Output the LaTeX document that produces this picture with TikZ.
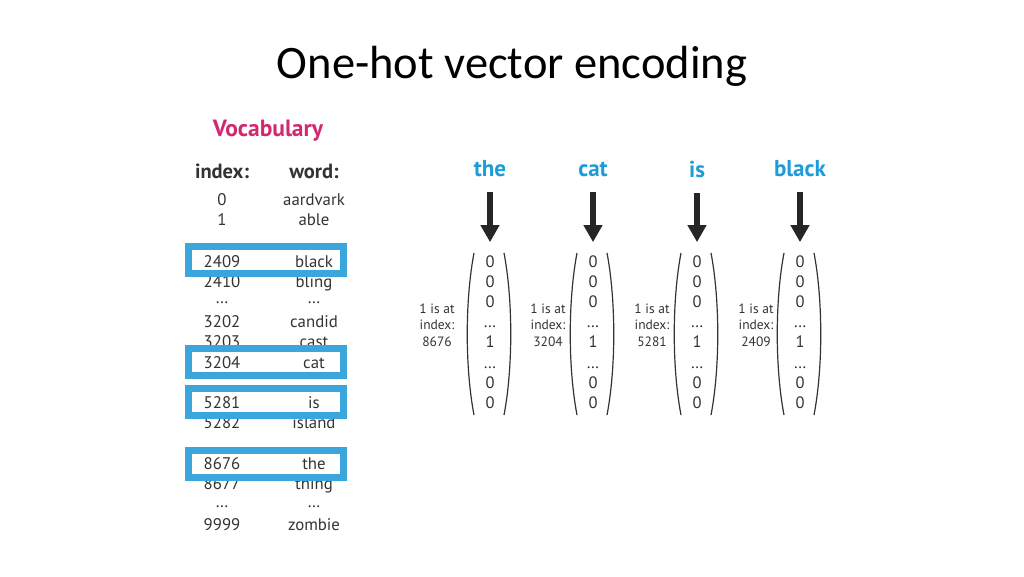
\documentclass[tikz,border=0pt]{standalone}
\usepackage{fontspec}
\setmainfont{Carlito}
\newfontfamily\vocabfont{PT Sans}
\usetikzlibrary{arrows.meta,positioning,calc}
\definecolor{vocabpink}{HTML}{D2286F}
\definecolor{hotblue}{HTML}{1E9CD7}
\definecolor{boxblue}{HTML}{3AA6DB}
\definecolor{listgray}{HTML}{333333}

\begin{document}
\begin{tikzpicture}[x=1pt, y=-1pt, every node/.style={inner sep=0pt, text=listgray, font=\vocabfont\fontsize{16.8}{20}\selectfont},
    hotbox/.style={draw=boxblue, line width=7pt, minimum width=155pt, minimum height=27pt},
    wordhead/.style={text=hotblue, font=\vocabfont\bfseries\fontsize{23}{26}\selectfont},
    onehot/.style={align=center, font=\vocabfont\fontsize{16.5}{20.2}\selectfont},
    paren/.style={draw=listgray, line width=1.2pt},
    bigarrow/.style={draw=black!85, line width=6pt, -{Triangle[length=17pt, width=18pt]}}]
    \useasboundingbox (0,0) rectangle (1024,576);
    % title
    \node[text=black, font=\fontsize{46.5}{52}\selectfont] (title) at (512,66) {One-hot vector encoding};
    % vocabulary table
    \node[text=vocabpink, font=\vocabfont\bfseries\fontsize{23.5}{26}\selectfont] (vocab) at (268,131) {Vocabulary};
    \node[font=\vocabfont\bfseries\fontsize{20.5}{24}\selectfont] (idxhead) at (222,171) {index:};
    \node[font=\vocabfont\bfseries\fontsize{20.5}{24}\selectfont] (wordhead) at (314,171) {word:};
    \foreach \y/\idx/\vword [count=\i] in {199/0/aardvark, 219/1/able, 261/2409/black, 281/2410/bling,
        297/…/…, 321/3202/candid, 341/3203/cast, 362/3204/cat, 402/5281/is, 422/5282/island,
        463/8676/the, 483/8677/thing, 501/…/…, 524/9999/zombie} {
        \node[anchor=base] (idx\i) at (222,\y+6) {\idx};
        \node[anchor=base] (wd\i) at (314,\y+6) {\vword};
    }
    % highlighted rows
    \node[hotbox] (hl1) at (266,260) {};
    \node[hotbox] (hl2) at (266,362) {};
    \node[hotbox] (hl3) at (266,402) {};
    \node[hotbox] (hl4) at (266,464) {};
    % one-hot vectors
    \foreach \x/\lx/\vword/\pos [count=\i] in {490/437/the/8676, 593/548/cat/3204, 697/652/is/5281, 800/756/black/2409} {
        \node[wordhead] (w\i) at (\x,169) {\vword};
        \node[onehot] (v\i) at (\x,332) {0\\0\\0\\…\\1\\…\\0\\0};
        \node[align=center, font=\vocabfont\fontsize{13.5}{16.5}\selectfont] (lab\i) at (\lx,325) {1 is at\\index:\\\pos};
        \draw[paren] (\x-16,253) .. controls (\x-25,300) and (\x-25,368) .. (\x-16,415);
        \draw[paren] (\x+14,253) .. controls (\x+23,300) and (\x+23,368) .. (\x+14,415);
        \draw[bigarrow, shorten <=15pt, shorten >=13pt] (w\i) -- (v\i);
    }
\end{tikzpicture}
\end{document}
